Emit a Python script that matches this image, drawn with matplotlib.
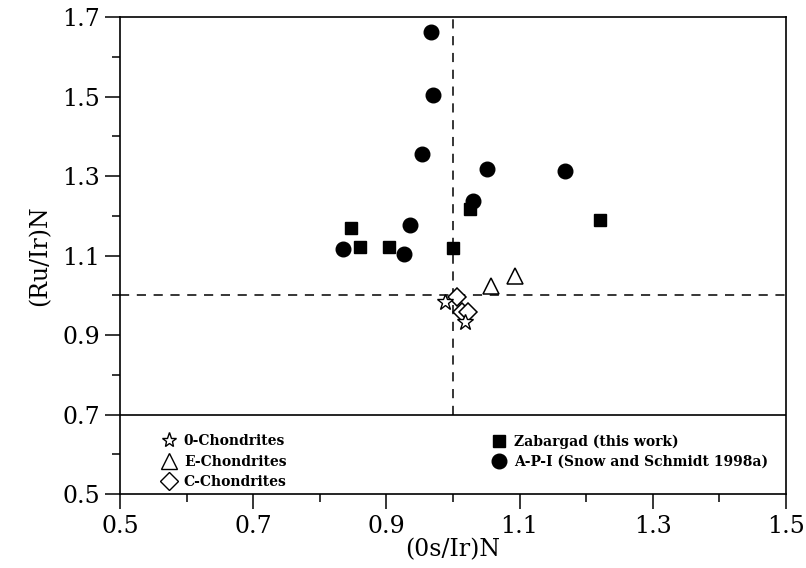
import matplotlib
matplotlib.use("Agg")
import matplotlib.pyplot as plt
from matplotlib.lines import Line2D

# Data: (Os/Ir)N vs (Ru/Ir)N
zab_x = [0.847, 0.861, 0.904, 1.000, 1.026, 1.221]
zab_y = [1.169, 1.121, 1.121, 1.119, 1.217, 1.189]

api_x = [0.967, 0.970, 0.953, 1.051, 1.168, 1.030, 0.935, 0.835, 0.926]
api_y = [1.662, 1.504, 1.355, 1.318, 1.313, 1.237, 1.177, 1.116, 1.104]

ochon_x = [0.988, 1.018]
ochon_y = [0.983, 0.933]

echon_x = [1.057, 1.093]
echon_y = [1.023, 1.048]

cchon_x = [1.006, 1.013, 1.023]
cchon_y = [0.996, 0.958, 0.958]

xticks = [0.5, 0.7, 0.9, 1.1, 1.3, 1.5]
yticks = [0.5, 0.7, 0.9, 1.1, 1.3, 1.5, 1.7]

plt.rcParams['font.family'] = ['DejaVu Serif']

fig = plt.figure(figsize=(8.06, 5.68), dpi=100)
ax = fig.add_axes([0.149, 0.130, 0.826, 0.840])

# reference lines
ax.axhline(1.0, color='k', lw=1.1, ls=(0, (6, 5)))
ax.plot([1.0, 1.0], [0.7, 1.7], color='k', lw=1.1, ls=(0, (6, 5)))
ax.axhline(0.7, color='k', lw=1.2)

ax.plot(zab_x, zab_y, 's', color='k', ms=8, ls='none')
ax.plot(api_x, api_y, 'o', color='k', ms=10.5, ls='none')
ax.plot(echon_x, echon_y, '^', mfc='white', mec='k', mew=1.1, ms=12, ls='none')
ax.plot(cchon_x, cchon_y, 'D', mfc='white', mec='k', mew=1.1, ms=9, ls='none')
ax.plot(ochon_x, ochon_y, '*', mfc='white', mec='k', mew=1.0, ms=12, ls='none')

ax.set_xlim(0.5, 1.5)
ax.set_ylim(0.5, 1.7)
ax.set_xticks(xticks)
ax.set_yticks(yticks)
ax.set_xticks([0.6, 0.8, 1.0, 1.2, 1.4], minor=True)
ax.set_yticks([0.6, 0.8, 1.0, 1.2, 1.4, 1.6], minor=True)
ax.set_xticklabels([f"{t:.1f}" for t in xticks])
ax.set_yticklabels([f"{t:.1f}" for t in yticks])
ax.tick_params(which='major', direction='out', length=11, width=1.1, labelsize=17)
ax.tick_params(which='minor', direction='out', length=6, width=1.1)
ax.tick_params(axis='x', pad=4)
for s in ax.spines.values():
    s.set_linewidth(1.2)

ax.set_xlabel("(0s/Ir)N", fontsize=17, labelpad=0)
ax.set_ylabel("(Ru/Ir)N", fontsize=17, labelpad=8)

lfont = {'family': 'DejaVu Serif', 'weight': 'bold', 'size': 10}
h1 = [Line2D([], [], marker='*', mfc='white', mec='k', ms=11, ls='none'),
      Line2D([], [], marker='^', mfc='white', mec='k', ms=11, ls='none'),
      Line2D([], [], marker='D', mfc='white', mec='k', ms=9, ls='none')]
leg1 = ax.legend(h1, ["0-Chondrites", "E-Chondrites", "C-Chondrites"],
                 loc='upper left', bbox_to_anchor=(0.053, 0.137), frameon=False,
                 borderaxespad=0, prop=lfont, handletextpad=0.45,
                 labelspacing=0.45, handlelength=1.2)
ax.add_artist(leg1)
h2 = [Line2D([], [], marker='s', color='k', ms=8, ls='none'),
      Line2D([], [], marker='o', color='k', ms=10.5, ls='none')]
ax.legend(h2, ["Zabargad (this work)", "A-P-I (Snow and Schmidt 1998a)"],
          loc='upper left', bbox_to_anchor=(0.548, 0.137), frameon=False,
          borderaxespad=0, prop=lfont, handletextpad=0.5,
          labelspacing=0.45, handlelength=1.2)

fig.savefig("out.png", dpi=100)
